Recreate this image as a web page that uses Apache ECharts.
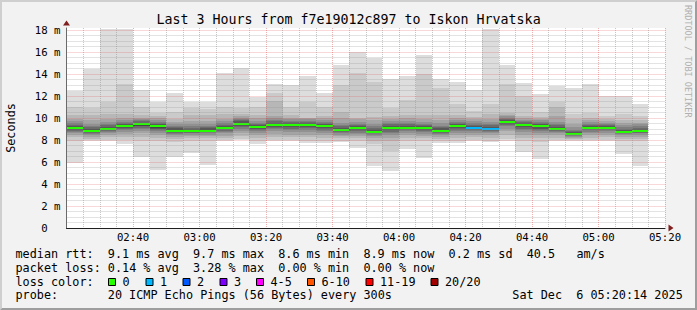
<!DOCTYPE html>
<html><head><meta charset="utf-8">
<script src="https://cdn.jsdelivr.net/npm/echarts@6/dist/echarts.min.js"></script>
<style>html,body{margin:0;padding:0;background:#f2f2f2}#c{width:697px;height:310px}</style>
</head><body><div id="c"></div>
<script>
// ---------- data ----------
const slots = ['02:20','02:25','02:30','02:35','02:40','02:45','02:50','02:55','03:00','03:05','03:10','03:15','03:20','03:25','03:30','03:35','03:40','03:45','03:50','03:55','04:00','04:05','04:10','04:15','04:20','04:25','04:30','04:35','04:40','04:45','04:50','04:55','05:00','05:05','05:10'];
const ping01 = [5.9,7.9,7.95,7.6,6.5,5.3,6.5,6.8,5.7,7.9,8.0,7.6,7.95,7.9,7.7,7.7,7.8,7.3,5.6,5.2,7.2,6.4,7.7,7.7,7.95,7.8,7.9,6.9,6.3,7.9,7.9,7.9,7.9,6.7,5.6];
const ping02 = [7.95,7.98,8.05,8.0,7.9,7.9,7.85,7.9,7.9,8.0,8.1,7.95,8.05,8.0,7.95,7.95,7.95,7.95,7.6,7.0,7.9,7.9,7.9,7.95,8.05,7.95,8.1,7.9,7.85,8.0,7.98,8.0,8.0,7.9,7.9];
const ping03 = [8.3,8.1,8.25,8.3,8.3,8.2,8.1,8.15,8.15,8.2,8.35,8.2,8.3,8.25,8.25,8.2,8.15,8.2,7.95,7.9,8.2,8.15,8.1,8.2,8.3,8.2,8.45,8.2,8.15,8.2,8.1,8.2,8.25,8.1,8.12];
const ping04 = [8.5,8.3,8.45,8.55,8.6,8.45,8.3,8.35,8.35,8.4,8.6,8.45,8.55,8.5,8.5,8.45,8.35,8.4,8.2,8.2,8.45,8.4,8.3,8.45,8.5,8.42,8.8,8.5,8.42,8.42,8.22,8.42,8.48,8.28,8.32];
const ping05 = [8.65,8.45,8.6,8.75,8.85,8.65,8.45,8.5,8.5,8.6,8.85,8.65,8.8,8.72,8.75,8.65,8.5,8.56,8.38,8.45,8.65,8.58,8.45,8.65,8.68,8.6,9.05,8.72,8.63,8.6,8.32,8.62,8.66,8.42,8.48];
const ping06 = [8.75,8.55,8.7,8.88,9.0,8.8,8.56,8.6,8.6,8.75,9.05,8.8,8.98,8.9,8.95,8.82,8.62,8.68,8.5,8.62,8.8,8.7,8.56,8.82,8.82,8.72,9.25,8.9,8.8,8.72,8.4,8.78,8.8,8.53,8.6];
const ping07 = [8.85,8.65,8.8,8.98,9.12,8.92,8.66,8.68,8.7,8.87,9.2,8.92,9.1,9.04,9.08,8.95,8.72,8.8,8.6,8.76,8.92,8.82,8.66,8.95,8.93,8.82,9.4,9.04,8.94,8.82,8.46,8.9,8.92,8.62,8.69];
const ping08 = [8.92,8.73,8.88,9.08,9.24,9.03,8.74,8.76,8.77,8.97,9.32,9.02,9.22,9.15,9.2,9.06,8.8,8.9,8.67,8.88,9.02,8.92,8.74,9.06,9.02,8.9,9.5,9.15,9.05,8.9,8.51,9.0,9.01,8.69,8.76];
const ping09 = [9.0,8.8,8.95,9.15,9.32,9.12,8.8,8.82,8.82,9.05,9.4,9.09,9.3,9.24,9.29,9.15,8.87,8.98,8.72,8.98,9.08,8.99,8.8,9.15,9.08,8.96,9.58,9.24,9.15,8.96,8.54,9.07,9.07,8.74,8.82];
const ping10 = [9.06,8.85,9.0,9.21,9.39,9.2,8.85,8.86,8.86,9.1,9.45,9.13,9.36,9.3,9.36,9.21,8.92,9.03,8.76,9.05,9.11,9.04,8.85,9.21,9.11,9.0,9.63,9.3,9.21,9.0,8.56,9.1,9.1,8.77,8.86];
const ping11 = [9.12,8.9,9.06,9.27,9.45,9.28,8.9,8.9,8.9,9.15,9.52,9.18,9.42,9.36,9.42,9.27,8.97,9.09,8.8,9.13,9.15,9.09,8.9,9.27,9.15,9.06,9.69,9.36,9.27,9.06,8.59,9.15,9.15,8.8,8.9];
const ping12 = [9.2,8.97,9.13,9.35,9.52,9.36,8.97,8.96,8.97,9.22,9.6,9.25,9.5,9.43,9.5,9.35,9.04,9.16,8.87,9.22,9.22,9.16,8.97,9.35,9.21,9.13,9.76,9.43,9.35,9.13,8.64,9.21,9.2,8.86,8.96];
const ping13 = [9.3,9.05,9.22,9.45,9.6,9.45,9.06,9.04,9.06,9.3,9.7,9.34,9.6,9.52,9.58,9.44,9.13,9.25,8.97,9.32,9.31,9.25,9.06,9.44,9.3,9.22,9.84,9.52,9.44,9.22,8.72,9.29,9.27,8.94,9.04];
const ping14 = [9.4,9.15,9.33,9.55,9.7,9.55,9.17,9.14,9.16,9.4,9.8,9.45,9.7,9.62,9.67,9.55,9.24,9.36,9.1,9.43,9.42,9.36,9.17,9.55,9.4,9.33,9.93,9.62,9.55,9.33,8.82,9.38,9.35,9.04,9.14];
const ping15 = [9.55,9.3,9.47,9.68,9.8,9.66,9.3,9.28,9.3,9.55,9.92,9.58,9.83,9.75,9.77,9.68,9.38,9.5,9.27,9.56,9.56,9.5,9.32,9.68,9.53,9.47,10.03,9.74,9.67,9.47,8.96,9.5,9.45,9.17,9.27];
const ping16 = [9.7,9.5,9.65,9.8,9.92,9.8,9.45,9.45,9.48,9.72,10.05,9.75,9.98,9.9,9.88,9.82,9.56,9.68,9.5,9.72,9.75,9.68,9.52,9.83,9.7,9.65,10.15,9.87,9.8,9.65,9.15,9.65,9.58,9.33,9.43];
const ping17 = [9.95,9.8,9.95,10.0,10.05,9.98,9.65,9.7,9.75,9.95,10.2,10.0,10.2,10.05,9.98,10.0,10.0,9.9,9.8,9.95,10.0,9.95,9.85,10.0,9.9,9.95,10.3,10.0,9.95,10.2,9.5,9.82,9.75,9.55,9.6];
const ping18 = [10.3,10.25,10.4,10.4,10.3,10.2,9.9,10.3,10.3,10.4,10.4,10.3,11.6,10.3,10.05,10.2,10.55,10.05,10.1,10.2,10.3,10.3,10.3,10.3,10.1,10.4,10.5,10.15,10.1,11.05,9.9,10.0,9.9,9.8,9.8];
const ping19 = [11.05,10.9,11.5,13.1,11.0,10.5,10.6,10.9,10.8,11.05,10.9,11.05,12.3,11.05,11.45,11.05,13.0,14.1,13.3,10.9,11.65,14.0,12.7,11.3,10.65,11.3,13.1,12.05,10.55,11.45,10.35,10.45,10.15,10.35,10.15];
const ping20 = [12.5,14.5,18.1,18.1,12.6,11.45,12.3,11.5,11.5,14.1,14.6,11.9,13.1,13.0,13.8,12.3,14.8,16.0,15.5,13.6,13.8,15.75,13.6,13.3,12.6,18.1,14.8,13.2,12.2,12.9,12.7,13.1,12.0,12.0,11.3];
const median = [9.09,8.87,9.03,9.24,9.42,9.24,8.87,8.87,8.87,9.12,9.48,9.15,9.39,9.33,9.39,9.24,8.94,9.06,8.78,9.09,9.12,9.06,8.87,9.24,9.12,9.03,9.66,9.33,9.24,9.03,8.57,9.12,9.12,8.78,8.87];
const lossCount = [0,0,0,0,0,0,0,0,0,0,0,0,0,0,0,0,0,0,0,0,0,0,0,0,1,1,0,0,0,0,0,0,0,0,0];
const xTicks = ['02:20','02:40','03:00','03:20','03:40','04:00','04:20','04:40','05:00','05:20'];
const yTicks = ['0','2 m','4 m','6 m','8 m','10 m','12 m','14 m','16 m','18 m'];
const lossLabels = ['0','1','2','3','4-5','6-10','11-19','20/20'];
const lossColors = ['#26ff00','#00b8ff','#0059ff','#7e00ff','#ff00ff','#ff5500','#ff0000','#a10000'];
const titleText = 'Last 3 Hours from f7e19012c897 to Iskon Hrvatska';
const yName = 'Seconds';
const legendLine1 = 'median rtt:  9.1 ms avg  9.7 ms max  8.6 ms min  8.9 ms now  0.2 ms sd  40.5   am/s';
const legendLine2 = 'packet loss: 0.14 % avg  3.28 % max  0.00 % min  0.00 % now';
const legendLine3 = 'loss color:';
const legendLine4 = 'probe:       20 ICMP Echo Pings (56 Bytes) every 300s';
const dateText = 'Sat Dec  6 05:20:14 2025';
const creditText = 'RRDTOOL / TOBI OETIKER';

// ---------- styling / layout ----------
const FONT = 'DejaVu Sans Mono';
const FS = 11.8, CW = 7.1;
const shades = ['#dddddd','#cacaca','#b7b7b7','#a4a4a4','#919191','#7e7e7e','#6b6b6b','#585858','#454545','#323232'];
const MAJOR = 'rgba(222,79,79,0.45)', MINOR = 'rgba(143,143,143,0.5)';
const pings = [ping01,ping02,ping03,ping04,ping05,ping06,ping07,ping08,ping09,ping10,ping11,ping12,ping13,ping14,ping15,ping16,ping17,ping18,ping19,ping20];
const toMin = s => { const p = s.split(':').map(Number); return p[0]*60 + p[1] - 140; };
const lossIdx = n => n === 0 ? 0 : n === 1 ? 1 : n === 2 ? 2 : n === 3 ? 3 : n <= 5 ? 4 : n <= 10 ? 5 : n <= 19 ? 6 : 7;

const series = [];
for (let li = 0; li < 10; li++) {
  series.push({
    type: 'custom', name: 'smoke' + (li + 1), z: 2, clip: true, silent: true,
    data: slots.map((s, k) => [toMin(s), toMin(s) + 5, pings[li][k], pings[19 - li][k]]),
    renderItem: (params, api) => {
      const a = api.coord([api.value(0), api.value(3)]);
      const b = api.coord([api.value(1), api.value(2)]);
      const x0 = Math.round(a[0]), x1 = Math.round(b[0]);
      const y0 = Math.round(a[1]), y1 = Math.round(b[1]);
      return { type: 'rect', shape: { x: x0, y: y0, width: x1 - x0, height: Math.max(0, y1 - y0) }, style: { fill: shades[li] } };
    }
  });
}
series.push({
  type: 'custom', name: 'median rtt', z: 3, clip: true, silent: true,
  data: slots.map((s, k) => [toMin(s), toMin(s) + 5, median[k], lossCount[k]]),
  renderItem: (params, api) => {
    const a = api.coord([api.value(0), api.value(2)]);
    const b = api.coord([api.value(1), api.value(2)]);
    const x0 = Math.round(a[0]), x1 = Math.round(b[0]);
    const y = Math.round(a[1] - 1);
    return { type: 'rect', shape: { x: x0, y: y, width: x1 - x0, height: 2 }, style: { fill: lossColors[lossIdx(api.value(3))] } };
  }
});

function lineTexts(str, x0, y) {
  const out = [];
  const re = /\S+(?: \S+)*/g; let m;
  while ((m = re.exec(str))) {
    out.push({ type: 'text', x: x0 + m.index * CW, y: y, silent: true,
      style: { text: m[0], fill: '#000', fontFamily: FONT, fontSize: FS, align: 'left', verticalAlign: 'middle' } });
  }
  return out;
}
const graphics = [
  { type: 'polygon', silent: true, shape: { points: [[0,0],[697,0],[695,2],[2,2],[2,308],[0,310]] }, style: { fill: '#cfcfcf' } },
  { type: 'polygon', silent: true, shape: { points: [[697,0],[697,310],[0,310],[2,308],[695,308],[695,2]] }, style: { fill: '#9e9e9e' } },
  { type: 'text', x: 348.5, y: 19.4, silent: true, style: { text: titleText, fill: '#000', fontFamily: FONT, fontSize: 13.3, align: 'center', verticalAlign: 'middle' } },
  { type: 'text', x: 11, y: 128, rotation: Math.PI / 2, silent: true, style: { text: yName, fill: '#000', fontFamily: FONT, fontSize: FS, align: 'center', verticalAlign: 'middle' } },
  { type: 'text', x: 687.5, y: 5, rotation: -Math.PI / 2, silent: true, style: { text: creditText, fill: '#b0b0b0', fontFamily: FONT, fontSize: 8.5, align: 'left', verticalAlign: 'middle' } }
];
const X0 = 15.5;
graphics.push(...lineTexts(legendLine1, X0, 254.4));
graphics.push(...lineTexts(legendLine2, X0, 268.2));
graphics.push(...lineTexts(legendLine3, X0, 281.8));
graphics.push(...lineTexts(legendLine4, X0, 295.4));
graphics.push(...lineTexts(dateText, 512.3, 295.4));
const lossBoxX = [108, 145.5, 182.5, 219.5, 256, 307, 365.5, 430.5];
lossLabels.forEach((lab, i) => {
  graphics.push({ type: 'rect', silent: true, shape: { x: lossBoxX[i] + 0.5, y: 278.5, width: 7, height: 7 }, style: { fill: lossColors[i], stroke: '#000', lineWidth: 1 } });
  graphics.push({ type: 'text', x: lossBoxX[i] + 14.5, y: 281.8, silent: true, style: { text: lab, fill: '#000', fontFamily: FONT, fontSize: FS, align: 'left', verticalAlign: 'middle' } });
});

const chart = echarts.init(document.getElementById('c'), null, { renderer: 'svg', width: 697, height: 310 });
chart.setOption({
  animation: false,
  backgroundColor: '#f2f2f2',
  textStyle: { fontFamily: FONT },
  grid: { left: 66.5, top: 28, width: 598.5, height: 200, show: true, backgroundColor: '#ffffff', borderWidth: 0, containLabel: false },
  xAxis: [
    { type: 'value', min: 0, max: 180, interval: 5, z: 5,
      axisLine: { show: true, onZero: false, lineStyle: { color: '#1f1f1f', width: 1 } },
      axisTick: { show: false },
      axisLabel: { showMinLabel: true, showMaxLabel: true, margin: 4, color: '#000', fontFamily: FONT, fontSize: 10.7,
        formatter: v => (v > 0 && v % 20 === 0) ? xTicks[v / 20] : '' },
      splitLine: { show: true, lineStyle: { color: [MAJOR, MINOR, MINOR, MINOR], type: 'dotted', width: 1 } } },
    { type: 'value', min: 0, max: 180, position: 'bottom', z: 6,
      axisLine: { show: true, onZero: false, symbol: ['none', 'triangle'], symbolSize: [7, 5], symbolOffset: [0, 6], lineStyle: { color: '#801f1f', width: 0 } },
      axisTick: { show: false }, axisLabel: { show: false }, splitLine: { show: false } }
  ],
  yAxis: [
    { type: 'value', min: 0, max: 18.2, interval: 0.5, z: 5,
      axisLine: { show: true, onZero: false, lineStyle: { color: '#6a6a6a', width: 1 } },
      axisTick: { show: false },
      axisLabel: { margin: 6, color: '#000', fontFamily: FONT, fontSize: 10.7,
        formatter: v => v === 0 ? yTicks[0] + '\u00a0\u00a0' : (v % 2 === 0 ? yTicks[v / 2] : '') },
      splitLine: { show: true, showMaxLine: false, lineStyle: { color: [MAJOR, MINOR, MINOR, MINOR], type: 'dotted', width: 1 } } },
    { type: 'value', min: 0, max: 18.2, position: 'left', z: 6,
      axisLine: { show: true, onZero: false, symbol: ['none', 'triangle'], symbolSize: [7, 5], symbolOffset: [0, 5], lineStyle: { color: '#801f1f', width: 0 } },
      axisTick: { show: false }, axisLabel: { show: false }, splitLine: { show: false } }
  ],
  series: series,
  graphic: graphics
});
</script>
</body></html>
